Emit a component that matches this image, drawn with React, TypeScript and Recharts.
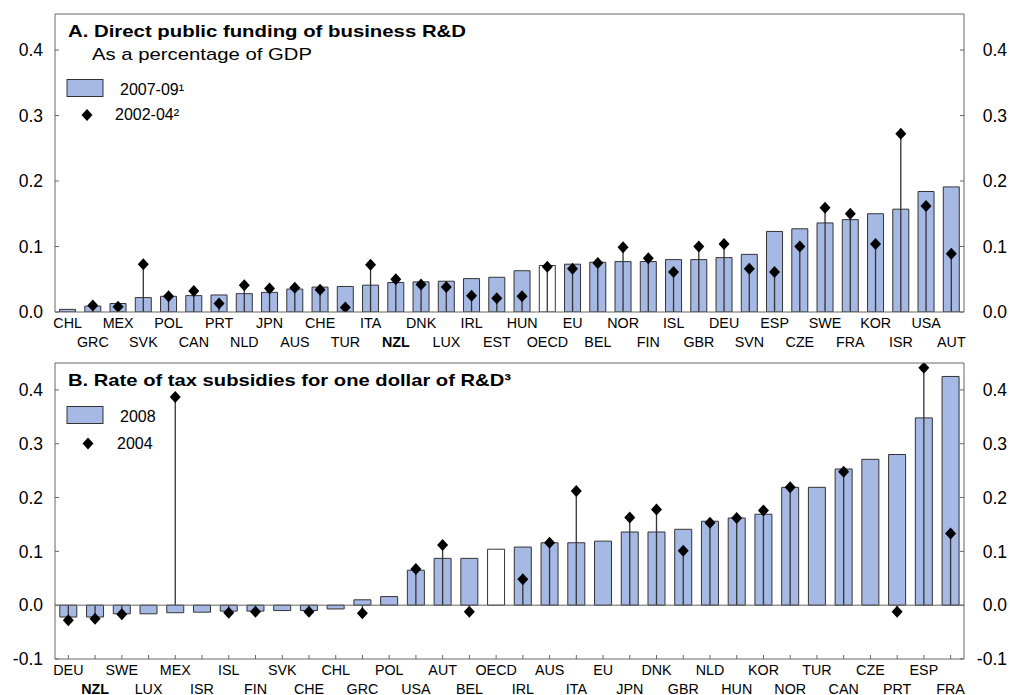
import React from 'react'
import { ComposedChart, Bar, XAxis, YAxis, ReferenceLine, Cell } from 'recharts'

const FONT = 'Arial, "Liberation Sans", sans-serif'
const BAR_FILL = '#A6B9E4'
const BAR_STROKE = '#333'
const AXIS = '#666'

// Panel A: direct public funding of business R&D, % of GDP
const catsA = ['CHL', 'GRC', 'MEX', 'SVK', 'POL', 'CAN', 'PRT', 'NLD', 'JPN', 'AUS', 'CHE', 'TUR', 'ITA', 'NZL', 'DNK', 'LUX', 'IRL', 'EST', 'HUN', 'OECD', 'EU', 'BEL', 'NOR', 'FIN', 'ISL', 'GBR', 'DEU', 'SVN', 'ESP', 'CZE', 'SWE', 'FRA', 'KOR', 'ISR', 'USA', 'AUT']
const funding0709 = [0.004, 0.009, 0.013, 0.022, 0.024, 0.025, 0.026, 0.028, 0.03, 0.035, 0.038, 0.039, 0.041, 0.045, 0.046, 0.047, 0.051, 0.053, 0.063, 0.071, 0.073, 0.076, 0.077, 0.077, 0.08, 0.08, 0.083, 0.088, 0.123, 0.127, 0.136, 0.141, 0.15, 0.157, 0.184, 0.191]
const funding0204 = [null, 0.01, 0.008, 0.073, 0.024, 0.032, 0.013, 0.041, 0.036, 0.037, 0.034, 0.007, 0.072, 0.05, 0.042, 0.038, 0.025, 0.021, 0.024, 0.069, 0.066, 0.075, 0.099, 0.082, 0.061, 0.1, 0.104, 0.066, 0.061, 0.1, 0.159, 0.15, 0.104, 0.272, 0.162, 0.089]

// Panel B: rate of tax subsidies for one dollar of R&D
const catsB = ['DEU', 'NZL', 'SWE', 'LUX', 'MEX', 'ISR', 'ISL', 'FIN', 'SVK', 'CHE', 'CHL', 'GRC', 'POL', 'USA', 'AUT', 'BEL', 'OECD', 'IRL', 'AUS', 'ITA', 'EU', 'JPN', 'DNK', 'GBR', 'NLD', 'HUN', 'KOR', 'NOR', 'TUR', 'CAN', 'CZE', 'PRT', 'ESP', 'FRA']
const subsidy2008 = [-0.022, -0.022, -0.016, -0.016, -0.014, -0.013, -0.011, -0.011, -0.01, -0.01, -0.007, 0.01, 0.016, 0.065, 0.087, 0.087, 0.104, 0.108, 0.116, 0.116, 0.119, 0.136, 0.136, 0.141, 0.156, 0.162, 0.169, 0.219, 0.219, 0.253, 0.271, 0.28, 0.348, 0.425]
const subsidy2004 = [-0.028, -0.025, -0.017, null, 0.387, null, -0.014, -0.012, null, -0.012, null, -0.015, null, 0.067, 0.112, -0.012, null, 0.048, 0.116, 0.212, null, 0.163, 0.178, 0.101, 0.153, 0.162, 0.176, 0.219, null, 0.248, null, -0.012, 0.441, 0.133]

const ticksA = [0, 0.1, 0.2, 0.3, 0.4]
const ticksB = [-0.1, 0, 0.1, 0.2, 0.3, 0.4]

const rowsA = catsA.map((name, i) => ({ name, bar: funding0709[i], diamond: funding0204[i] }))
const rowsB = catsB.map((name, i) => ({ name, bar: subsidy2008[i], diamond: subsidy2004[i] }))

// line from zero to the earlier value, with a diamond on the end
function Lollipop(props: any) {
  const { x, y, width, height, payload } = props
  if (payload == null || payload.diamond == null) return <g />
  const cx = x + width / 2
  return (
    <g>
      <line x1={cx} x2={cx} y1={y + height} y2={y} stroke="#333" strokeWidth={1.3} />
      <path d={`M${cx},${y - 6}L${cx + 5.5},${y}L${cx},${y + 6}L${cx - 5.5},${y}Z`} fill="#000" />
    </g>
  )
}

function CatTick({ x, y, payload, cats, dy1, dy2 }: any) {
  const i = cats.indexOf(payload.value)
  const bold = payload.value === 'NZL'
  return (
    <text x={x} y={y + (i % 2 === 1 ? dy2 : dy1)} textAnchor="middle" fontSize={14.3} fontFamily={FONT}
      fontWeight={bold ? 700 : 400} fill="#000">
      {payload.value}
    </text>
  )
}

const fmt = (v: number) => v.toFixed(1)

// y labels are right-aligned on both sides
function ValueTick({ x, y, payload }: any) {
  return (
    <text x={x} y={y} dy="0.36em" textAnchor="end" fontSize={17.5} fontFamily={FONT} fill="#000">
      {fmt(payload.value)}
    </text>
  )
}

function Panel({ rows, cats, domain, ticks, height, top, xHeight, zeroLine }: any) {
  return (
    <ComposedChart width={1010} height={height} data={rows} margin={{ top, right: 0, bottom: 0, left: 0 }} barCategoryGap="18%">
      <XAxis xAxisId="bottom" dataKey="name" interval={0} height={xHeight} axisLine={{ stroke: AXIS }}
        tickLine={zeroLine ? { stroke: AXIS } : false} tickSize={zeroLine ? -4 : 0} tickMargin={zeroLine ? 4 : 0}
        tick={(p: any) => <CatTick {...p} cats={cats} dy1={16} dy2={34.5} />} />
      <XAxis xAxisId="top" dataKey="name" orientation="top" height={0} tick={false} tickLine={false} axisLine={false} />
      <YAxis yAxisId="left" domain={domain} ticks={ticks} allowDataOverflow width={55} tickSize={-4} tickMargin={16}
        tick={(p: any) => <ValueTick {...p} />} axisLine={{ stroke: AXIS }} tickLine={{ stroke: AXIS }} />
      <YAxis yAxisId="right" orientation="right" domain={domain} ticks={ticks} allowDataOverflow width={46} tickSize={-4} tickMargin={47}
        tick={(p: any) => <ValueTick {...p} />} axisLine={{ stroke: AXIS }} tickLine={{ stroke: AXIS }} />
      <ReferenceLine xAxisId="bottom" yAxisId="left" y={domain[1]} stroke={AXIS} strokeWidth={1} />
      <Bar xAxisId="bottom" yAxisId="left" dataKey="bar" fill={BAR_FILL} stroke={BAR_STROKE} strokeWidth={1} isAnimationActive={false}>
        {rows.map((r: any, i: number) => <Cell key={i} fill={r.name === 'OECD' ? '#fff' : BAR_FILL} />)}
      </Bar>
      {zeroLine && <ReferenceLine xAxisId="bottom" yAxisId="left" y={0} stroke={AXIS} strokeWidth={1} />}
      <Bar xAxisId="top" yAxisId="right" dataKey="diamond" shape={<Lollipop />} isAnimationActive={false} />
    </ComposedChart>
  )
}

function Diamond({ cx, cy }: { cx: number; cy: number }) {
  return <path d={`M${cx},${cy - 6}L${cx + 5.5},${cy}L${cx},${cy + 6}L${cx - 5.5},${cy}Z`} fill="#000" />
}

export default function App() {
  return (
    <div style={{ position: 'relative', width: 1010, height: 695, background: '#fff', fontFamily: FONT }}>
      <style>{'body{margin:0}'}</style>
      <Panel rows={rowsA} cats={catsA} domain={[0, 0.455]} ticks={ticksA} height={350} top={14} xHeight={38} zeroLine={false} />
      <Panel rows={rowsB} cats={catsB} domain={[-0.1, 0.45]} ticks={ticksB} height={345} top={13} xHeight={36} zeroLine />
      <svg width={1010} height={695} style={{ position: 'absolute', left: 0, top: 0, pointerEvents: 'none' }} fontFamily={FONT}>
        <text x={68} y={37} fontSize={17} fontWeight={700} textLength={398} lengthAdjust="spacingAndGlyphs">A. Direct public funding of business R&amp;D</text>
        <text x={92} y={60} fontSize={17} textLength={220} lengthAdjust="spacingAndGlyphs">As a percentage of GDP</text>
        <rect x={67} y={79.5} width={36} height={17} fill={BAR_FILL} stroke={BAR_STROKE} />
        <text x={120} y={95} fontSize={16}>2007-09¹</text>
        <Diamond cx={87} cy={115} />
        <text x={115} y={120} fontSize={16}>2002-04²</text>

        <text x={68} y={385.5} fontSize={17} fontWeight={700} textLength={443} lengthAdjust="spacingAndGlyphs">B. Rate of tax subsidies for one dollar of R&amp;D³</text>
        <rect x={67} y={406.5} width={36} height={17} fill={BAR_FILL} stroke={BAR_STROKE} />
        <text x={120} y={421.5} fontSize={16}>2008</text>
        <Diamond cx={88} cy={443.5} />
        <text x={117} y={448.5} fontSize={16}>2004</text>
      </svg>
    </div>
  )
}
